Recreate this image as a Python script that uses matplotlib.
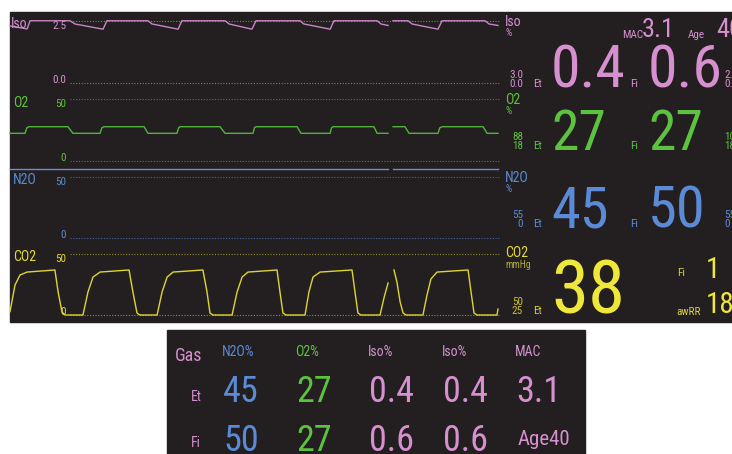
import numpy as np
import matplotlib
matplotlib.use("Agg")
import matplotlib.pyplot as plt
from matplotlib import font_manager, transforms
from matplotlib.patches import Rectangle

nan = np.nan

# sweep time in seconds, gap (nan) is the erase bar of the sweep
iso_t = [0.00, 0.75, 0.88, 2.63, 2.85, 4.08, 4.25, 6.05, 6.23, 7.37, 7.54,
         9.43, 9.61, 10.61, 10.79, 12.72, 12.89, 14.04, 14.21, 16.10, 16.27,
         16.58, nan, 16.80, 17.46, 17.63, 18.77, 18.95, 20.83, 21.01, 21.40]
iso_v = [2.30, 2.18, 2.51, 2.51, 2.38, 2.17, 2.51, 2.51, 2.38, 2.17, 2.51,
         2.51, 2.38, 2.17, 2.51, 2.51, 2.38, 2.17, 2.51, 2.51, 2.38,
         2.32, nan, 2.51, 2.51, 2.38, 2.17, 2.51, 2.51, 2.38, 2.32]

o2_t = [0.00, 0.66, 0.74, 0.83, 2.54, 2.76, 3.95, 4.03, 4.12, 5.88, 6.05,
        7.32, 7.40, 7.46, 9.21, 9.43, 10.66, 10.72, 10.79, 12.59, 12.76,
        14.04, 14.10, 14.17, 15.96, 16.10, 16.58, nan, 16.80, 17.32, 17.50,
        18.77, 18.85, 18.95, 20.75, 20.92, 21.40]
o2_v = [22.3, 22.3, 26.8, 27.7, 27.7, 22.3, 22.3, 26.8, 27.7, 27.7, 22.3,
        22.3, 26.8, 27.7, 27.7, 22.3, 22.3, 26.8, 27.7, 27.7, 22.3,
        22.3, 26.8, 27.7, 27.7, 22.3, 22.3, nan, 27.7, 27.7, 22.3,
        22.3, 26.8, 27.7, 27.7, 22.3, 22.3]

n2o_t = [0.00, 16.58, nan, 16.80, 21.40]
n2o_v = [56.3, 56.3, nan, 56.3, 56.3]

co2_t = [0.00, 0.22, 0.44, 0.75, 1.97, 2.11, 2.28, 2.41,
         3.20, 3.42, 3.64, 3.95, 5.22, 5.39, 5.57, 5.70,
         6.45, 6.67, 6.89, 7.15, 8.46, 8.64, 8.77, 8.90,
         9.74, 9.96, 10.18, 10.44, 11.71, 11.84, 11.97, 12.11,
         12.94, 13.11, 13.29, 13.60, 15.00, 15.13, 15.26, 15.39,
         16.23, 16.40, 16.58, nan, 16.84, 16.97, 17.11, 17.24, 17.37,
         18.11, 18.29, 18.46, 18.73, 20.09, 20.22, 20.35, 20.48,
         21.36, 21.40]
co2_v = [2.7, 24.6, 32.8, 35.2, 36.9, 18.9, 2.5, 0.0,
         0.0, 18.9, 31.1, 35.2, 36.9, 18.9, 1.6, 0.0,
         0.0, 18.9, 31.1, 35.2, 36.9, 18.9, 1.6, 0.0,
         0.0, 18.9, 31.1, 35.2, 36.9, 18.9, 1.6, 0.0,
         0.0, 18.9, 31.1, 35.2, 36.9, 18.9, 1.6, 0.0,
         0.0, 13.9, 26.2, nan, 36.9, 27.0, 10.7, 1.6, 0.0,
         0.0, 16.4, 29.5, 35.2, 36.9, 18.9, 1.6, 0.0,
         0.0, 4.9]

# scale (top, bottom) per channel
iso_scale = ["2.5", "0.0"]
o2_scale = ["50", "0"]
n2o_scale = ["50", "0"]
co2_scale = ["50", "0"]

# alarm limits (high, low)
iso_limits = ["3.0", "0.0"]
o2_limits = ["88", "18"]
n2o_limits = ["55", "0"]
co2_limits = ["50", "25"]
iso_fi_limits = ["2.0", "0.0"]
o2_fi_limits = ["100", "18"]
n2o_fi_limits = ["55", "0"]

# numerics
iso_et, iso_fi = "0.4", "0.6"
o2_et, o2_fi = "27", "27"
n2o_et, n2o_fi = "45", "50"
co2_et, co2_fi = "38", "1"
awrr = "18"
mac = "3.1"
age = "40"

gas_headers = ["N2O%", "O2%", "Iso%", "Iso%", "MAC"]
gas_et = ["45", "27", "0.4", "0.4", "3.1"]
gas_fi = ["50", "27", "0.6", "0.6", "Age40"]

W, H = 732, 454
SWEEP = 21.49
BG = "#231f20"
PINK = "#d690d0"
GREEN = "#5cc23f"
BLUE = "#5b8bd6"
YELLOW = "#efe73a"
CO2_TEXT = "#e2da38"


def pick_font():
    names = {f.name for f in font_manager.fontManager.ttflist}
    for name in ["Liberation Sans Narrow", "Roboto Condensed", "Open Sans Condensed"]:
        if name in names:
            return name
    return "DejaVu Sans"


FONT = pick_font()
fig = plt.figure(figsize=(W / 100, H / 100), dpi=100)
fig.patch.set_facecolor("white")


def fx(x):
    return x / W


def fy(y):
    return 1 - y / H


def put(text, x, y, size, color, ha="left", va="center"):
    fig.text(fx(x), fy(y), text, fontsize=size, color=color, ha=ha, va=va,
             family=FONT)


def panel(x0, y0, x1, y1):
    fig.add_artist(Rectangle((fx(x0), fy(y1)), fx(x1) - fx(x0), fy(y0) - fy(y1),
                             transform=fig.transFigure, color=BG, zorder=0))


def channel(top, bottom, hi, hi_px, lo, lo_px):
    # axes spanning pixel rows top..bottom, ylim so hi/lo land on hi_px/lo_px
    ax = fig.add_axes([fx(10), fy(bottom), fx(500) - fx(10), fy(top) - fy(bottom)])
    per = (lo_px - hi_px) / (hi - lo)
    ax.set_ylim(lo - (bottom - lo_px) / per, hi + (hi_px - top) / per)
    ax.set_xlim(0, SWEEP)
    ax.axis("off")
    return ax


def draw_channel(ax, t, v, scale, line_color, dot_color, text_color):
    hi, lo = float(scale[0]), float(scale[1])
    for val in (hi, lo):
        ax.hlines(val, 2.63, SWEEP, colors=dot_color, linestyles=(0, (1, 1.5)),
                  linewidth=0.8)
    ax.plot(t, v, color=line_color, linewidth=1.0, clip_on=False)
    tr = transforms.blended_transform_factory(fig.transFigure, ax.transData)
    ax.text(fx(66), hi, scale[0], transform=tr, ha="right", va="top",
            fontsize=8, color=text_color, family=FONT)
    ax.text(fx(66), lo, scale[1], transform=tr, ha="right", va="baseline",
            fontsize=8, color=text_color, family=FONT)


def main():
    panel(10, 12, 732, 322)
    panel(167, 330, 585, 454)

    ax_iso = channel(12, 92, 2.5, 21, 0.0, 83)
    ax_o2 = channel(92, 166, 50, 99.3, 0, 160.7)
    ax_n2o = channel(166, 246, 50, 176.7, 0, 237.7)
    ax_co2 = channel(246, 322, 50, 254, 0, 315)

    draw_channel(ax_iso, iso_t, iso_v, iso_scale, "#c985c6", "#9a6a9a", PINK)
    draw_channel(ax_o2, o2_t, o2_v, o2_scale, "#4fb43b", "#3b8a32", GREEN)
    draw_channel(ax_n2o, n2o_t, n2o_v, n2o_scale, "#6a8fd2", "#44639c", BLUE)
    draw_channel(ax_co2, co2_t, co2_v, co2_scale, "#ddd532", "#928c2e", CO2_TEXT)

    # channel names on the left
    put("Iso", 11, 24, 10, PINK)
    put("O2", 13, 103, 10, GREEN)
    put("N2O", 13, 180, 10, BLUE)
    put("CO2", 13, 257, 10, CO2_TEXT)

    # parameter block on the right
    rows = [
        ("Iso", "%", iso_limits, iso_et, iso_fi, iso_fi_limits, PINK, 22, 88, 43),
        ("O2", "%", o2_limits, o2_et, o2_fi, o2_fi_limits, GREEN, 100, 150, 40),
        ("N2O", "%", n2o_limits, n2o_et, n2o_fi, n2o_fi_limits, BLUE, 178, 228, 42),
    ]
    for name, unit, lim, et, fi, fi_lim, col, y_name, base, size in rows:
        put(name, 505, y_name, 10, col)
        put(unit, 505, y_name + 11, 7, col)
        put(lim[0], 523, base - 13, 8, col, ha="right")
        put(lim[1], 523, base - 4, 8, col, ha="right")
        put("Et", 533, base - 4, 8, col)
        put(et, 551, base, size, col, va="baseline")
        put("Fi", 630, base - 4, 8, col)
        put(fi, 648, base, size, col, va="baseline")
        put(fi_lim[0], 724, base - 13, 8, col)
        put(fi_lim[1], 724, base - 4, 8, col)

    put("MAC", 622, 35, 8, PINK)
    put(mac, 642, 37, 19, PINK, va="baseline")
    put("Age", 688, 35, 8, PINK)
    put(age, 716, 37, 19, PINK, va="baseline")

    put("CO2", 505, 253, 10, CO2_TEXT)
    put("mmHg", 505, 265, 7, "#b3ab36")
    put(co2_limits[0], 523, 302, 8, "#c9c138", ha="right")
    put(co2_limits[1], 523, 311, 8, "#c9c138", ha="right")
    put("Et", 533, 311, 8, "#d8d03a")
    put(co2_et, 551, 313, 54, YELLOW, va="baseline")
    put("Fi", 677, 273, 8, "#d8d03a")
    put(co2_fi, 706, 278, 21, YELLOW, va="baseline")
    put("awRR", 676, 312, 8, "#d8d03a")
    put(awrr, 706, 313, 21, YELLOW, va="baseline")

    # gas summary table
    put("Gas", 175, 356, 13, PINK)
    cols_x = [222, 295, 368, 442, 515]
    colors = [BLUE, GREEN, PINK, PINK, PINK]
    put("Et", 191, 397, 10, PINK)
    put("Fi", 191, 443, 10, PINK)
    for x, head, et, fi, col in zip(cols_x, gas_headers, gas_et, gas_fi, colors):
        put(head, x, 352, 10, col)
        put(et, x + 1, 402, 26, col, va="baseline")
        if fi.startswith("Age"):
            put(fi, x + 3, 445, 15, col, va="baseline")
        else:
            put(fi, x + 1, 451, 26, col, va="baseline")

    fig.savefig("out.png", dpi=100, facecolor="white")


if __name__ == "__main__":
    main()
